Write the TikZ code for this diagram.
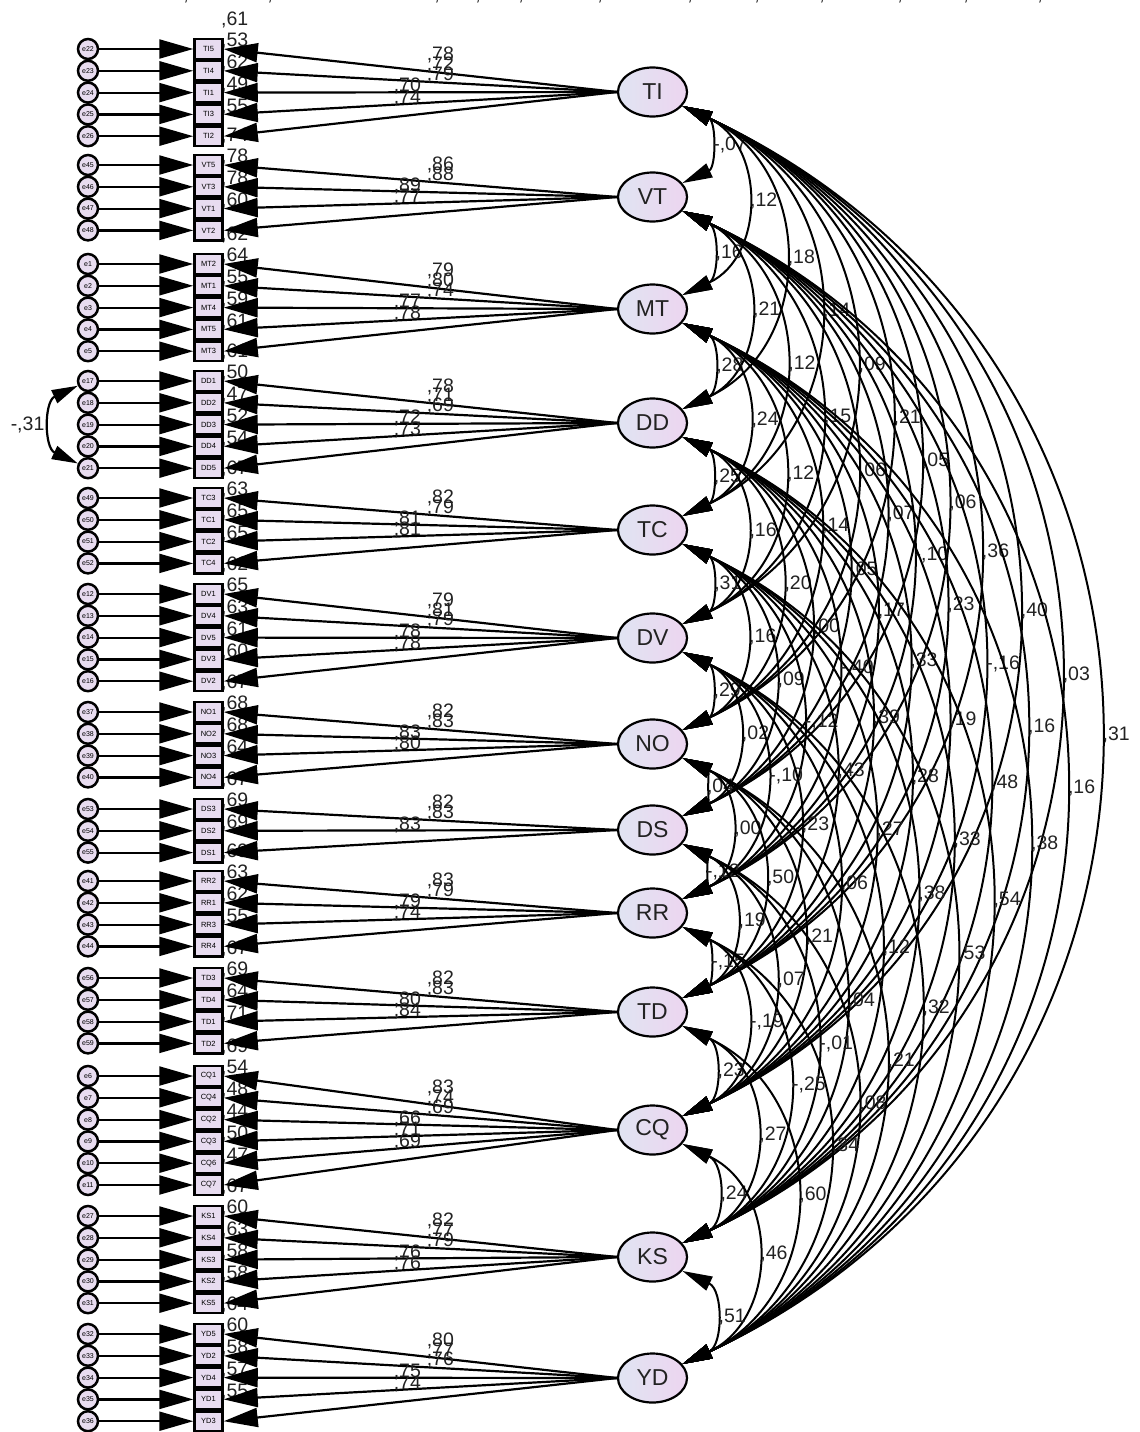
\documentclass[tikz,border=0pt]{standalone}
\usepackage{fontspec}
\setmainfont{Liberation Sans}
\usetikzlibrary{arrows.meta,shapes.geometric,calc}
\pgfdeclarelayer{bg}
\pgfsetlayers{bg,main}
\definecolor{boxfill}{HTML}{E8DCF0}
\definecolor{ellL}{HTML}{E0E4F2}
\definecolor{ellR}{HTML}{EDD5F0}
\definecolor{ink}{HTML}{222222}
\tikzset{
  lat/.style={ellipse, draw, line width=2.2pt, minimum width=69pt, minimum height=49pt,
    left color=ellL, right color=ellR, text=ink, font=\fontsize{23}{23}\selectfont, inner sep=0pt},
  obs/.style={rectangle, draw, line width=2.5pt, minimum width=28pt, minimum height=19.8pt,
    fill=boxfill, font=\fontsize{7.5}{7.5}\selectfont, inner sep=0pt},
  err/.style={circle, draw, line width=2.5pt, minimum size=20pt, fill=boxfill,
    font=\fontsize{7}{7}\selectfont, inner sep=0pt},
  lbl/.style={font=\fontsize{19.5}{19.5}\selectfont, text=ink, inner sep=0pt},
  conn/.style={line width=2.2pt, -{Triangle[length=34pt,width=19pt]}},
  cov/.style={line width=2pt, {Triangle[length=30pt,width=15pt]}-{Triangle[length=30pt,width=15pt]}},
  covl/.style={line width=2.2pt, {Triangle[length=26pt,width=14pt]}-{Triangle[length=26pt,width=14pt]}},
}
\def\groups{%
TI/92/49/5/{TI5/e22/78/61,TI4/e23/72/53,TI1/e24/79/62,TI3/e25/70/49,TI2/e26/74/55},%
VT/197/165/4/{VT5/e45/86/74,VT3/e46/88/78,VT1/e47/89/78,VT2/e48/77/60},%
MT/309/264/5/{MT2/e1/79/62,MT1/e2/80/64,MT4/e3/74/55,MT5/e4/77/59,MT3/e5/78/61},%
DD/423/381/5/{DD1/e17/78/61,DD2/e18/71/50,DD3/e19/69/47,DD4/e20/72/52,DD5/e21/73/54},%
TC/530/498/4/{TC3/e49/82/67,TC1/e50/79/63,TC2/e51/81/65,TC4/e52/81/65},%
DV/638/594/5/{DV1/e12/79/62,DV4/e13/81/65,DV5/e14/79/63,DV3/e15/78/61,DV2/e16/78/60},%
NO/744/712/4/{NO1/e37/82/67,NO2/e38/83/68,NO3/e39/83/68,NO4/e40/80/64},%
DS/830/809/3/{DS3/e53/82/67,DS2/e54/83/69,DS1/e55/83/69},%
RR/913/881/4/{RR2/e41/83/69,RR1/e42/79/63,RR3/e43/79/62,RR4/e44/74/55},%
TD/1012/978/4/{TD3/e56/82/67,TD4/e57/83/69,TD1/e58/80/64,TD2/e59/84/71},%
CQ/1130/1076/6/{CQ1/e6/83/69,CQ4/e7/74/54,CQ2/e8/69/48,CQ3/e9/66/44,CQ6/e10/71/50,CQ7/e11/69/47},%
KS/1257/1216/5/{KS1/e27/82/67,KS4/e28/77/60,KS3/e29/79/63,KS2/e30/76/58,KS5/e31/76/58},%
YD/1378/1334/5/{YD5/e32/80/64,YD2/e33/77/60,YD4/e34/76/58,YD1/e35/75/57,YD3/e36/74/55}}
\begin{document}
\begin{tikzpicture}[x=1pt,y=-1pt]
\useasboundingbox (0,0) rectangle (1140,1432);
% pass 1: nodes and squared multiple correlations
\foreach \f/\fy/\gy/\nn/\lst in \groups {
  \node[lat] (\f) at (652.5,\fy) {\f};
  \foreach \n/\e/\l/\r [count=\k from 0] in \lst {
    \pgfmathsetmacro\yy{\gy+21.8*\k}
    \node[obs] (\n) at (208.5,\yy) {\n};
    \node[err] (\e) at (88,\yy) {\e};
    \begin{pgfonlayer}{bg}
      \node[lbl, anchor=base west] (r\n) at (221,\yy-24) {,\r};
    \end{pgfonlayer}
  }
}
% pass 2: error arrows and loadings
\begin{pgfonlayer}{bg}
\foreach \f/\fy/\gy/\nn/\lst in \groups {
  \foreach \n/\e/\l/\r [count=\k from 0] in \lst {
    \pgfmathsetmacro\pp{(2*\k<\nn) ? 0.449 : 0.533}
    \draw[conn] (\e) -- (\n);
    \draw[conn] (\f.west) -- node[lbl, pos=\pp, anchor=base, yshift=12pt] {,\l} (\n.east);
  }
}
% covariances between factors
\foreach \a/\b/\v in {%
TI/VT/{-,07},TI/MT/{,12},TI/DD/{,18},TI/TC/{,14},TI/DV/{,09},TI/NO/{,21},TI/DS/{,05},TI/RR/{,06},TI/TD/{,36},TI/CQ/{,40},TI/KS/{,03},TI/YD/{,31},%
VT/MT/{,16},VT/DD/{,21},VT/TC/{,12},VT/DV/{,15},VT/NO/{,06},VT/DS/{,07},VT/RR/{-,10},VT/TD/{,23},VT/CQ/{-,16},VT/KS/{,16},VT/YD/{,16},%
MT/DD/{,28},MT/TC/{,24},MT/DV/{,12},MT/NO/{,14},MT/DS/{,05},MT/RR/{,17},MT/TD/{,33},MT/CQ/{,19},MT/KS/{,48},MT/YD/{,38},%
DD/TC/{,25},DD/DV/{,16},DD/NO/{,20},DD/DS/{,00},DD/RR/{-,40},DD/TD/{,39},DD/CQ/{,28},DD/KS/{,33},DD/YD/{,54},%
TC/DV/{,31},TC/NO/{,16},TC/DS/{,09},TC/RR/{-,12},TC/TD/{,43},TC/CQ/{,27},TC/KS/{,38},TC/YD/{,53},%
DV/NO/{,29},DV/DS/{,02},DV/RR/{-,10},DV/TD/{,23},DV/CQ/{,06},DV/KS/{,12},DV/YD/{,32},%
NO/DS/{,04},NO/RR/{,00},NO/TD/{,50},NO/CQ/{,21},NO/KS/{,04},NO/YD/{,21},%
DS/RR/{-,12},DS/TD/{,19},DS/CQ/{,07},DS/KS/{-,01},DS/YD/{,08},%
RR/TD/{-,15},RR/CQ/{-,19},RR/KS/{-,25},RR/YD/{,34},%
TD/CQ/{,23},TD/KS/{,27},TD/YD/{,60},%
CQ/KS/{,24},CQ/YD/{,46},%
KS/YD/{,51}} {
  \draw[cov] (\a.-25) .. controls ($(\a.-25)!0.485!65:(\b.25)$) and ($(\b.25)!0.485!-65:(\a.-25)$) .. (\b.25)
     node[lbl, pos=0.5, anchor=west, xshift=4.5pt] {\v};
}
% error covariance
\draw[covl] (e17.-155) .. controls ($(e17.-155)!0.48!-65:(e21.155)$) and ($(e21.155)!0.48!65:(e17.-155)$) .. (e21.155)
   node[lbl, pos=0.5, anchor=east, xshift=-7pt] {-,31};
\end{pgfonlayer}
% cut-off labels at the top edge
\foreach \cx in {186,270,437,478,521,600,690,757,822,900,966,1040} {
  \node[lbl, anchor=base] at (\cx,1) {,};
}
\end{tikzpicture}
\end{document}
